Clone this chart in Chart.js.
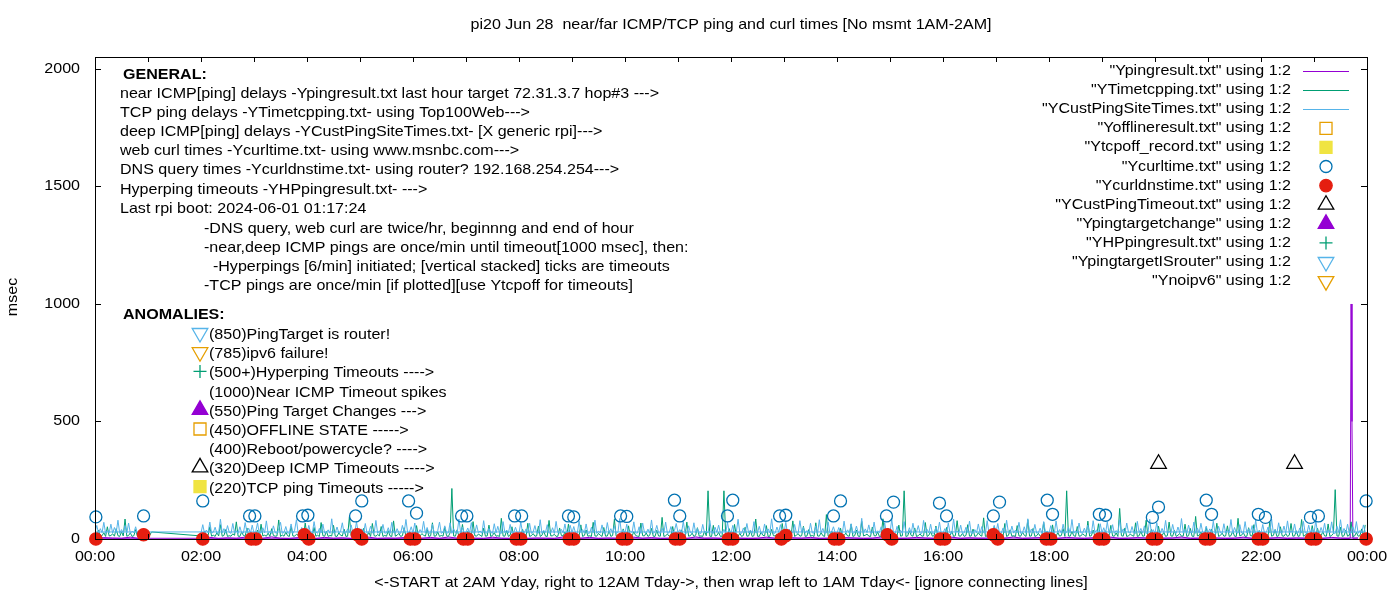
<!DOCTYPE html>
<html>
<head>
<meta charset="utf-8">
<title>pi20 Jun 28 near/far ICMP/TCP ping and curl times</title>
<script src="https://cdn.jsdelivr.net/npm/chart.js@4.4.1/dist/chart.umd.min.js"></script>
<style>
  html, body { margin: 0; padding: 0; background: #fff; }
  #wrap { width: 1400px; height: 600px; }
</style>
</head>
<body>
<div id="wrap"><canvas id="chart" width="1400" height="600"></canvas></div>
<script>
// x values are minutes of the day (0 = 00:00, 1440 = next 00:00)
const SAMPLE_STEP = 2;      // TCP / deep ping samples read every 2 min
const NEAR_STEP = 10;       // near ping samples read every 10 min
const MAIN_START = 120;     // data starts 2AM yesterday

const xLabelMinutes = [0, 120, 240, 360, 480, 600, 720, 840, 960, 1080, 1200, 1320, 1440];
const xTickLabels = ['00:00', '02:00', '04:00', '06:00', '08:00', '10:00', '12:00',
  '14:00', '16:00', '18:00', '20:00', '22:00', '00:00'];
const yTickValues = [0, 500, 1000, 1500, 2000];

// Ypingresult.txt (near ICMP), 02:00 .. 23:50
const nearPingMs = [
  3, 7, 2, 5, 3, 8,   2, 3, 9, 3, 2, 6,   4, 2, 7, 3, 5, 2,   3, 8, 2, 4, 3, 6,
  2, 3, 7, 2, 9, 3,   4, 3, 2, 8, 3, 2,   6, 2, 4, 3, 2, 9,   5, 3, 7, 2, 4, 3,
  2, 8, 3, 6, 2, 3,   3, 2, 9, 3, 4, 2,   7, 3, 2, 3, 8, 3,   2, 5, 3, 7, 2, 3,
  3, 6, 4, 2, 3, 9,   5, 2, 3, 7, 4, 2,   3, 8, 2, 5, 3, 3,   2, 3, 9, 2, 4, 6,
  4, 2, 7, 4, 2, 5,   3, 8, 2, 3, 6, 4,   2, 3, 4, 9, 2, 3,   7, 4, 2, 3, 8, 2,
  5, 3, 6, 2, 4, 3,   3, 2, 7, 3, 2, 4
];
const nearSpikeMin = [1421, 1422, 1423, 1424];
const nearSpikeMs = [3, 1000, 500, 3];
// wrapped part 00:00 .. 00:50
const nearWrapMs = [3, 6, 4, 3, 8, 2];

// YTimetcpping.txt (TCP ping), 02:00 .. 23:58, one row per hour
const tcpPingMs = [
  13,15,34,11,14,52,12,16,11,27,13,61,12,15,40,11,14,12,22,16,73,12,11,30,15,12,47,13,11,19,
  12,14,38,11,63,13,16,12,25,11,44,15,12,13,81,11,17,12,29,14,11,55,13,12,20,16,36,11,13,68,
  15,11,24,13,49,12,16,11,70,14,12,33,11,15,13,58,12,11,26,16,13,42,11,12,95,14,13,21,12,37,
  11,16,45,12,13,28,11,66,14,12,19,13,53,11,15,12,35,13,11,77,12,16,24,11,14,48,12,13,31,15,
  14,12,57,11,13,23,16,12,41,11,14,69,12,13,30,11,15,12,50,14,11,26,215,13,12,39,11,16,62,12,
  12,33,13,11,74,14,12,21,16,11,46,12,13,59,11,15,27,12,14,11,88,13,12,36,11,16,52,12,14,25,
  13,11,42,15,12,67,11,14,23,12,13,55,11,16,34,12,11,79,13,14,20,11,12,47,15,13,30,11,64,12,
  11,14,27,12,13,60,11,15,38,12,14,11,71,13,12,24,16,11,49,12,13,35,11,15,84,12,14,22,11,43,
  14,12,56,11,13,31,15,12,11,68,14,13,26,11,16,45,12,11,37,13,12,92,11,14,21,12,15,53,11,29,
  12,15,39,11,13,72,12,14,25,11,16,48,12,13,11,33,14,205,12,11,58,13,15,28,11,12,205,14,12,44,
  13,11,62,14,12,24,11,15,50,12,13,36,11,14,85,12,11,29,16,13,57,11,12,41,14,13,22,11,15,66,
  11,14,32,12,13,77,11,16,23,12,14,54,11,13,40,12,15,11,69,13,12,27,14,11,104,12,13,34,15,12,
  14,12,46,11,15,25,13,12,63,11,14,38,12,11,75,13,16,21,12,11,51,14,13,30,11,12,86,15,13,43,
  12,15,28,11,13,59,12,14,205,11,13,35,15,12,47,11,14,22,12,13,70,11,16,31,12,14,55,11,13,26,
  13,11,49,12,16,33,11,14,78,13,12,24,11,15,61,12,13,42,11,14,27,16,12,90,11,13,37,12,15,53,
  11,14,23,13,12,66,11,15,39,12,14,11,57,13,12,29,16,11,82,12,13,45,11,14,24,12,15,71,13,34,
  14,12,60,11,13,27,12,15,44,11,205,13,12,32,14,11,53,12,13,22,16,11,76,12,14,38,11,13,65,12,
  12,15,35,11,14,58,13,12,26,11,130,14,12,47,11,13,21,15,12,69,11,14,33,12,13,80,11,16,41,12,
  13,11,54,12,15,28,11,14,72,13,12,37,11,16,23,12,13,63,11,14,45,12,11,96,13,15,30,12,14,50,
  11,14,42,13,12,67,11,15,25,12,13,56,11,14,34,12,11,88,13,16,27,11,12,48,14,13,61,11,15,36,
  14,12,29,11,13,74,12,15,40,11,14,52,13,12,23,11,16,66,12,13,35,11,14,83,12,15,26,11,13,57,
  12,15,46,11,14,31,13,12,64,11,15,24,210,13,12,50,11,14,38,12,16,73,11,13,28,12,14,43,11,60
];
// wrapped part 00:00 .. 01:04
const tcpWrapMs = [13,16,38,12,14,27,11,52,13,15,22,12,44,14,11,31,13,85,12,15,26,11,14,40,12,13,21,15,12,34,13,16,30];

// YCustPingSiteTimes.txt (deep ICMP), 02:00 .. 23:58, one row per hour
const deepPingMs = [
  26,61,24,38,27,72,25,29,50,24,27,84,26,44,25,57,28,24,66,26,35,24,52,27,25,70,29,46,24,59,
  25,33,68,24,27,48,26,77,25,31,24,56,27,25,42,71,24,28,53,25,26,64,24,37,82,26,25,49,28,41,
  24,58,27,25,74,30,24,45,26,63,25,28,39,24,86,26,27,51,25,33,69,24,26,43,27,60,25,24,73,29,
  27,43,25,66,24,28,55,26,25,79,24,35,27,62,25,26,48,24,71,28,25,44,26,24,58,27,83,25,30,52,
  25,68,26,24,40,28,75,25,49,24,27,63,26,25,36,72,24,29,56,25,26,69,24,44,27,25,85,26,51,24,
  28,47,24,70,26,25,60,27,34,24,78,25,26,45,29,24,65,26,54,25,24,74,27,38,25,62,24,26,50,28,
  24,72,27,26,43,25,67,24,29,57,26,25,82,24,37,28,61,25,26,48,24,75,27,25,41,26,64,24,30,58,
  26,53,25,24,76,28,40,26,64,24,25,50,27,80,24,33,26,60,25,24,70,27,44,25,56,24,28,87,26,39,
  25,63,24,35,27,73,26,25,52,24,68,28,26,42,25,81,24,31,58,27,25,46,26,72,24,27,53,25,36,66,
  27,40,26,75,24,25,56,28,24,69,26,45,25,24,62,27,33,25,79,26,24,50,28,59,25,26,41,24,72,27,
  24,58,25,29,84,26,24,47,27,66,25,38,24,74,26,28,54,25,24,64,27,43,26,86,24,25,51,28,61,25,
  26,71,24,42,25,27,62,26,24,78,28,49,25,36,24,67,26,25,56,24,82,27,45,25,26,73,24,32,52,26,
  25,49,27,24,76,26,39,25,65,24,28,55,26,25,88,24,43,27,60,25,26,72,24,35,27,52,25,69,24,46,
  28,83,25,24,54,26,37,24,74,27,25,48,24,67,26,29,57,25,24,79,27,41,26,63,24,25,50,28,72,24,
  24,44,26,68,25,24,85,27,34,25,59,24,26,50,28,76,24,25,40,26,64,24,53,27,25,78,26,31,24,58,
  27,66,24,25,47,26,80,28,24,55,25,38,27,71,24,26,52,25,86,24,42,26,62,25,27,46,24,74,26,33,
  25,57,26,24,77,27,40,25,63,24,28,50,26,83,24,35,25,68,27,24,46,26,59,25,24,78,28,39,25,65,
  26,48,24,73,25,27,61,24,36,26,82,25,43,24,68,28,25,53,26,24,75,27,45,25,56,24,26,84,25,40,
  24,70,27,25,45,26,79,24,33,25,62,28,24,51,26,87,25,41,24,59,27,26,72,24,47,25,67,28,24,55,
  27,43,25,76,24,26,54,27,24,65,25,37,26,83,24,49,28,25,61,26,24,74,25,44,27,57,24,80,26,35,
  25,62,24,28,51,26,85,25,40,24,69,27,26,55,24,77,25,34,28,64,24,26,47,25,75,27,24,59,26,44,
  24,79,26,25,49,27,67,24,39,26,73,25,24,54,28,82,25,45,26,63,24,25,52,27,74,24,36,26,60,30
];
// wrapped part 00:00 .. 00:48
const deepWrapMs = [30,58,25,44,27,71,24,36,26,63,25,49,27,80,24,40,26,57,25,68,24,33,27,52,24];

// Ycurltime.txt (web curl)
const curlMin = [1, 55, 122, 175, 181, 235, 241, 295, 302, 355, 364, 415, 421, 475, 483,
  536, 542, 595, 602, 656, 662, 716, 722, 775, 782, 836, 844, 896, 904, 956, 964,
  1017, 1024, 1078, 1084, 1137, 1144, 1197, 1204, 1258, 1264, 1317, 1325, 1376, 1385, 1439];
const curlMs = [94, 98, 162, 98, 98, 98, 101, 98, 162, 162, 110, 98, 98, 98, 98,
  98, 94, 98, 96, 165, 98, 98, 165, 98, 101, 98, 162, 98, 157, 153, 98,
  98, 157, 165, 105, 105, 101, 92, 136, 165, 105, 105, 92, 92, 98, 162];

// Ycurldnstime.txt (DNS query)
const dnsMin = [1, 55, 122, 177, 182, 237, 242, 297, 302, 357, 362, 417, 422, 477, 482,
  537, 542, 597, 602, 657, 662, 717, 722, 777, 782, 837, 842, 897, 902, 957, 962,
  1017, 1022, 1077, 1082, 1137, 1142, 1197, 1202, 1257, 1262, 1317, 1322, 1377, 1382, 1439];
const dnsMs = [0, 18, 0, 0, 0, 18, 0, 18, 0, 0, 0, 0, 0, 0, 0,
  0, 0, 0, 0, 0, 0, 0, 0, 0, 14, 0, 0, 18, 0, 0, 0,
  18, 0, 0, 0, 0, 0, 0, 0, 0, 0, 0, 0, 0, 0, 0];

// YCustPingTimeout.txt (deep ICMP timeouts)
const deepTimeoutMin = [1204, 1358];
const deepTimeoutMs = [320, 320];

const titleText = 'pi20 Jun 28  near/far ICMP/TCP ping and curl times [No msmt 1AM-2AM]';
const xAxisTitle = '<-START at 2AM Yday, right to 12AM Tday->, then wrap left to 1AM Tday<- [ignore connecting lines]';
const yAxisTitle = 'msec';

const generalNotes = [
  'near ICMP[ping] delays -Ypingresult.txt last hour target 72.31.3.7 hop#3 --->',
  'TCP ping delays -YTimetcpping.txt- using Top100Web--->',
  'deep ICMP[ping] delays -YCustPingSiteTimes.txt- [X generic rpi]--->',
  'web curl times -Ycurltime.txt- using www.msnbc.com--->',
  'DNS query times -Ycurldnstime.txt- using router? 192.168.254.254--->',
  'Hyperping timeouts -YHPpingresult.txt- --->',
  'Last rpi boot: 2024-06-01 01:17:24'
];
const generalDetails = [
  '-DNS query, web curl are twice/hr, beginnng and end of hour',
  '-near,deep ICMP pings are once/min until timeout[1000 msec], then:',
  '  -Hyperpings [6/min] initiated; [vertical stacked] ticks are timeouts',
  '-TCP pings are once/min [if plotted][use Ytcpoff for timeouts]'
];
const anomalyNotes = [
  '(850)PingTarget is router!',
  '(785)ipv6 failure!',
  '(500+)Hyperping Timeouts ---->',
  '(1000)Near ICMP Timeout spikes',
  '(550)Ping Target Changes --->',
  '(450)OFFLINE STATE ----->',
  '(400)Reboot/powercycle? ---->',
  '(320)Deep ICMP Timeouts ---->',
  '(220)TCP ping Timeouts ----->'
];
// which dataset marker sits in front of each anomaly line (-1 = none)
const anomalyMarkerSet = [10, 11, 9, -1, 8, 3, -1, 7, 4];

const C = {
  purple: '#9400d3', green: '#009e73', cyan: '#56b4e9', orange: '#e69f00',
  yellow: '#f0e442', blue: '#0072b2', red: '#e51e10', black: '#000000'
};

const FONT_PX = 14.5;
const TEXT_STRETCH = 1.107;
const TICK_LEN = 5;

function series(values, start, step) {
  return values.map((v, i) => ({ x: start + i * step, y: v }));
}
function pairs(xs, ys) {
  return xs.map((m, i) => ({ x: m, y: ys[i] }));
}

const nearMain = series(nearPingMs, MAIN_START, NEAR_STEP)
  .concat(pairs(nearSpikeMin, nearSpikeMs))
  .sort((a, b) => a.x - b.x);
const nearPoints = nearMain.concat(series(nearWrapMs, 0, NEAR_STEP));
const tcpPoints = series(tcpWrapMs, 0, SAMPLE_STEP).concat(series(tcpPingMs, MAIN_START, SAMPLE_STEP));
const deepPoints = series(deepPingMs, MAIN_START, SAMPLE_STEP).concat(series(deepWrapMs, 0, SAMPLE_STEP));

function lineSet(label, data, color) {
  return {
    label, data, borderColor: color, backgroundColor: color,
    borderWidth: 1, pointRadius: 0, tension: 0, fill: false, borderJoinStyle: 'round'
  };
}
function markSet(label, data, color, style, radius, filled, rotation) {
  return {
    label, data, showLine: false, clip: false,
    borderColor: color, backgroundColor: filled ? color : 'rgba(0,0,0,0)',
    pointStyle: style, pointRadius: radius, pointBorderWidth: 1.3,
    pointRotation: rotation || 0
  };
}

const datasets = [
  lineSet('"Ypingresult.txt" using 1:2', nearPoints, C.purple),
  lineSet('"YTimetcpping.txt" using 1:2', tcpPoints, C.green),
  lineSet('"YCustPingSiteTimes.txt" using 1:2', deepPoints, C.cyan),
  markSet('"Yofflineresult.txt" using 1:2', [], C.orange, 'rect', 8.5, false),
  markSet('"Ytcpoff_record.txt" using 1:2', [], C.yellow, 'rect', 8.5, true),
  markSet('"Ycurltime.txt" using 1:2', pairs(curlMin, curlMs), C.blue, 'circle', 6, false),
  markSet('"Ycurldnstime.txt" using 1:2', pairs(dnsMin, dnsMs), C.red, 'circle', 6.2, true),
  markSet('"YCustPingTimeout.txt" using 1:2', pairs(deepTimeoutMin, deepTimeoutMs), C.black, 'triangle', 9, false),
  markSet('"Ypingtargetchange" using 1:2', [], C.purple, 'triangle', 9, true),
  markSet('"YHPpingresult.txt" using 1:2', [], C.green, 'cross', 6.5, false),
  markSet('"YpingtargetISrouter" using 1:2', [], C.cyan, 'triangle', 9, false, 180),
  markSet('"Ynoipv6" using 1:2', [], C.orange, 'triangle', 9, false, 180)
];
// gnuplot order: later plots sit on top
datasets.forEach((ds, i) => { ds.order = datasets.length - i; });

function drawText(ctx, s, x, y, align, bold) {
  ctx.save();
  ctx.font = (bold ? 'bold ' : '') + FONT_PX + 'px "Liberation Sans", Arial, sans-serif';
  ctx.fillStyle = '#000';
  ctx.textBaseline = 'middle';
  ctx.textAlign = align || 'left';
  ctx.translate(x, y);
  ctx.scale(TEXT_STRETCH, 1);
  ctx.fillText(s, 0, 0);
  ctx.restore();
}

function drawMarker(ctx, ds, x, y) {
  ctx.save();
  ctx.strokeStyle = ds.borderColor;
  ctx.fillStyle = ds.backgroundColor;
  ctx.lineWidth = ds.pointBorderWidth;
  Chart.helpers.drawPoint(ctx, {
    pointStyle: ds.pointStyle, radius: ds.pointRadius,
    rotation: ds.pointRotation, borderWidth: ds.pointBorderWidth
  }, x, y);
  ctx.restore();
}

const gnuplotFrame = {
  id: 'gnuplotFrame',
  beforeDraw(chart) {
    const ctx = chart.ctx;
    ctx.save();
    ctx.fillStyle = '#fff';
    ctx.fillRect(0, 0, chart.width, chart.height);
    ctx.restore();
  },
  afterDatasetsDraw(chart) {
    const { ctx, chartArea: a, scales: { x, y } } = chart;
    ctx.save();
    ctx.strokeStyle = '#000';
    ctx.lineWidth = 1;
    ctx.strokeRect(a.left + 0.5, a.top + 0.5, a.right - a.left, a.bottom - a.top);
    ctx.beginPath();
    for (let m = 0; m <= 1440; m += 60) {
      const px = Math.round(x.getPixelForValue(m)) + 0.5;
      ctx.moveTo(px, a.bottom); ctx.lineTo(px, a.bottom - TICK_LEN);
      ctx.moveTo(px, a.top); ctx.lineTo(px, a.top + TICK_LEN);
    }
    yTickValues.forEach(v => {
      const py = Math.round(y.getPixelForValue(v)) + 0.5;
      ctx.moveTo(a.left, py); ctx.lineTo(a.left + TICK_LEN + 1, py);
      ctx.moveTo(a.right, py); ctx.lineTo(a.right - TICK_LEN - 1, py);
    });
    ctx.stroke();
    ctx.restore();

    yTickValues.forEach(v => drawText(ctx, String(v), a.left - 15, y.getPixelForValue(v), 'right'));
    xLabelMinutes.forEach((m, i) => drawText(ctx, xTickLabels[i], x.getPixelForValue(m), a.bottom + 18, 'center'));

    const midX = (a.left + a.right) / 2;
    drawText(ctx, titleText, midX, 25, 'center');
    drawText(ctx, xAxisTitle, midX, 583, 'center');
    ctx.save();
    ctx.translate(13, 297);
    ctx.rotate(-Math.PI / 2);
    drawText(ctx, yAxisTitle, 0, 0, 'center');
    ctx.restore();

    // notes block
    drawText(ctx, 'GENERAL:', 123, 75, 'left', true);
    generalNotes.forEach((s, i) => drawText(ctx, s, 120, 94 + i * 19.1, 'left'));
    generalDetails.forEach((s, i) => drawText(ctx, s, 204, 229 + i * 19.1, 'left'));
    drawText(ctx, 'ANOMALIES:', 123, 315, 'left', true);
    anomalyNotes.forEach((s, i) => {
      const ty = 335 + i * 19.2;
      drawText(ctx, s, 209, ty, 'left');
      if (anomalyMarkerSet[i] >= 0) drawMarker(ctx, datasets[anomalyMarkerSet[i]], 200, ty - 2);
    });

    // key, gnuplot style: right aligned text with sample on the right
    datasets.forEach((ds, i) => {
      const ky = 71 + i * 19.1;
      drawText(ctx, ds.label, 1291, ky, 'right');
      if (ds.showLine === false) {
        drawMarker(ctx, ds, 1326, ky);
      } else {
        ctx.save();
        ctx.strokeStyle = ds.borderColor;
        ctx.lineWidth = 1;
        ctx.beginPath();
        ctx.moveTo(1303, Math.round(ky) + 0.5);
        ctx.lineTo(1349, Math.round(ky) + 0.5);
        ctx.stroke();
        ctx.restore();
      }
    });
  }
};

new Chart(document.getElementById('chart'), {
  type: 'line',
  data: { datasets },
  plugins: [gnuplotFrame],
  options: {
    responsive: false,
    animation: false,
    devicePixelRatio: 1,
    events: [],
    layout: { padding: { top: 57, right: 33, bottom: 0, left: 0 } },
    plugins: { legend: { display: false }, tooltip: { enabled: false }, title: { display: false } },
    scales: {
      x: {
        type: 'linear', min: 0, max: 1440,
        grid: { display: false, drawTicks: false }, border: { display: false },
        ticks: { display: false, stepSize: 60 },
        afterFit: (scale) => { scale.height = 61; }
      },
      y: {
        type: 'linear', min: 0, max: 2051,
        grid: { display: false, drawTicks: false }, border: { display: false },
        ticks: { display: false, stepSize: 500, includeBounds: false },
        afterFit: (scale) => { scale.width = 95; }
      }
    }
  }
});
</script>
</body>
</html>
